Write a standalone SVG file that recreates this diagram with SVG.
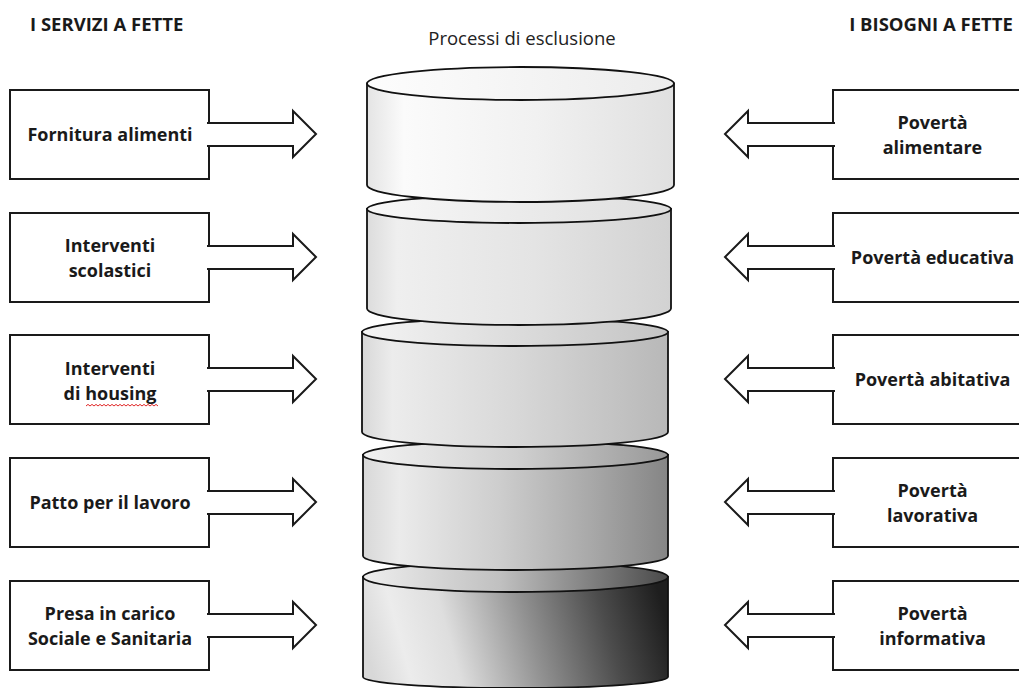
<svg xmlns="http://www.w3.org/2000/svg" width="1019" height="688" viewBox="0 0 1019 688">
<style>
.box{fill:#fff;stroke:#1a1a1a;stroke-width:2}
.arr{fill:#fff;stroke:#1a1a1a;stroke-width:2;stroke-linejoin:miter}
.lbl{font-family:"Open Sans","Liberation Sans",sans-serif;font-weight:bold;font-size:18px;fill:#1a1a1a;text-anchor:middle}
.hdr{font-family:"Open Sans","Liberation Sans",sans-serif;font-weight:bold;font-size:18.5px;fill:#1a1a1a}
.ttl{font-family:"Open Sans","Liberation Sans",sans-serif;font-size:18.5px;fill:#222;text-anchor:middle}
.cyl{stroke:#111;stroke-width:1.8}
</style>
<defs>
<linearGradient id="s1" x1="0" y1="0" x2="1" y2="0"><stop offset="0" stop-color="#e4e4e4"/><stop offset="0.12" stop-color="#fbfbfb"/><stop offset="0.55" stop-color="#f1f1f1"/><stop offset="1" stop-color="#e0e0e0"/></linearGradient>
<linearGradient id="t1" x1="0" y1="0" x2="1" y2="0"><stop offset="0" stop-color="#fdfdfd"/><stop offset="1" stop-color="#ececec"/></linearGradient>
<linearGradient id="s2" x1="0" y1="0" x2="1" y2="0"><stop offset="0" stop-color="#dcdcdc"/><stop offset="0.1" stop-color="#efefef"/><stop offset="0.55" stop-color="#e4e4e4"/><stop offset="1" stop-color="#d2d2d2"/></linearGradient>
<linearGradient id="t2" x1="0" y1="0" x2="1" y2="0"><stop offset="0" stop-color="#f8f8f8"/><stop offset="1" stop-color="#dedede"/></linearGradient>
<linearGradient id="s3" x1="0" y1="0" x2="1" y2="0"><stop offset="0" stop-color="#d8d8d8"/><stop offset="0.1" stop-color="#ececec"/><stop offset="0.5" stop-color="#d8d8d8"/><stop offset="1" stop-color="#b8b8b8"/></linearGradient>
<linearGradient id="t3" x1="0" y1="0" x2="1" y2="0"><stop offset="0" stop-color="#f4f4f4"/><stop offset="1" stop-color="#c4c4c4"/></linearGradient>
<linearGradient id="s4" x1="0" y1="0" x2="1" y2="0"><stop offset="0" stop-color="#d8d8d8"/><stop offset="0.12" stop-color="#ebebeb"/><stop offset="0.45" stop-color="#cdcdcd"/><stop offset="0.75" stop-color="#a8a8a8"/><stop offset="1" stop-color="#858585"/></linearGradient>
<linearGradient id="t4" x1="0" y1="0" x2="1" y2="0"><stop offset="0" stop-color="#f2f2f2"/><stop offset="0.5" stop-color="#d0d0d0"/><stop offset="1" stop-color="#989898"/></linearGradient>
<linearGradient id="s5" x1="0" y1="0.55" x2="1" y2="0.45"><stop offset="0" stop-color="#d8d8d8"/><stop offset="0.12" stop-color="#ececec"/><stop offset="0.28" stop-color="#dedede"/><stop offset="0.55" stop-color="#909090"/><stop offset="0.8" stop-color="#4c4c4c"/><stop offset="1" stop-color="#1e1e1e"/></linearGradient>
<linearGradient id="t5" x1="0" y1="0" x2="1" y2="0"><stop offset="0" stop-color="#eeeeee"/><stop offset="0.45" stop-color="#c0c0c0"/><stop offset="1" stop-color="#4a4a4a"/></linearGradient>
</defs>
<rect width="1019" height="688" fill="#fff"/>

<text class="hdr" x="30" y="31">I SERVIZI A FETTE</text>
<text class="hdr" x="931" y="31" text-anchor="middle">I BISOGNI A FETTE</text>
<text class="ttl" x="522" y="45">Processi di esclusione</text>

<g id="cylinder5">
<path class="cyl" fill="url(#s5)" d="M363,577 V677 A152.5,11 0 0 0 668,677 V577 Z"/>
<ellipse class="cyl" fill="url(#t5)" cx="515.5" cy="577" rx="152.5" ry="15"/>
</g>
<g id="cylinder4">
<path class="cyl" fill="url(#s4)" d="M363,455 V556 A152.5,14 0 0 0 668,556 V455 Z"/>
<ellipse class="cyl" fill="url(#t4)" cx="515.5" cy="455" rx="152.5" ry="14"/>
</g>
<g id="cylinder3">
<path class="cyl" fill="url(#s3)" d="M362,332 V432 A153,15 0 0 0 668,432 V332 Z"/>
<ellipse class="cyl" fill="url(#t3)" cx="515" cy="332" rx="153" ry="14"/>
</g>
<g id="cylinder2">
<path class="cyl" fill="url(#s2)" d="M367,209 V308.5 A152,16.5 0 0 0 671,308.5 V209 Z"/>
<ellipse class="cyl" fill="url(#t2)" cx="519" cy="209" rx="152" ry="14"/>
</g>
<g id="cylinder1">
<path class="cyl" fill="url(#s1)" d="M367,83.5 V185 A153.5,17 0 0 0 674,185 V83.5 Z"/>
<ellipse class="cyl" fill="url(#t1)" cx="520.5" cy="83.5" rx="153.5" ry="16.5"/>
</g>

<g id="svc1"><rect class="box" x="10" y="90" width="199" height="89"/><text class="lbl" x="110" y="141">Fornitura alimenti</text></g>
<g id="svc2"><rect class="box" x="10" y="213" width="199" height="89"/><text class="lbl" x="110" y="252">Interventi</text><text class="lbl" x="110" y="277">scolastici</text></g>
<g id="svc3"><rect class="box" x="10" y="335" width="199" height="89"/><text class="lbl" x="110" y="375">Interventi</text><text class="lbl" x="110" y="400">di housing</text><path d="M86,406 l2,-1.6 l2,1.6 l2,-1.6 l2,1.6 l2,-1.6 l2,1.6 l2,-1.6 l2,1.6 l2,-1.6 l2,1.6 l2,-1.6 l2,1.6 l2,-1.6 l2,1.6 l2,-1.6 l2,1.6 l2,-1.6 l2,1.6 l2,-1.6 l2,1.6 l2,-1.6 l2,1.6 l2,-1.6 l2,1.6 l2,-1.6 l2,1.6 l2,-1.6 l2,1.6 l2,-1.6 l2,1.6 l2,-1.6 l2,1.6 l2,-1.6 l2,1.6 l2,-1.6 l2,1.6" fill="none" stroke="#e02828" stroke-width="1"/></g>
<g id="svc4"><rect class="box" x="10" y="458" width="199" height="89"/><text class="lbl" x="110" y="509">Patto per il lavoro</text></g>
<g id="svc5"><rect class="box" x="10" y="581" width="199" height="89"/><text class="lbl" x="110" y="620">Presa in carico</text><text class="lbl" x="110" y="645">Sociale e Sanitaria</text></g>

<g id="need1"><rect class="box" x="833" y="90" width="199" height="89"/><text class="lbl" x="932.5" y="129">Povertà</text><text class="lbl" x="932.5" y="154">alimentare</text></g>
<g id="need2"><rect class="box" x="833" y="213" width="199" height="89"/><text class="lbl" x="932.5" y="264">Povertà educativa</text></g>
<g id="need3"><rect class="box" x="833" y="335" width="199" height="89"/><text class="lbl" x="932.5" y="386">Povertà abitativa</text></g>
<g id="need4"><rect class="box" x="833" y="458" width="199" height="89"/><text class="lbl" x="932.5" y="497">Povertà</text><text class="lbl" x="932.5" y="522">lavorativa</text></g>
<g id="need5"><rect class="box" x="833" y="581" width="199" height="89"/><text class="lbl" x="932.5" y="620">Povertà</text><text class="lbl" x="932.5" y="645">informativa</text></g>

<g id="connectors">
<path class="arr" d="M207,123 H293 V111 L316,134 L293,157 V146 H207"/>
<path class="arr" d="M207,246 H293 V234 L316,257 L293,280 V269 H207"/>
<path class="arr" d="M207,368 H293 V356 L316,379 L293,402 V391 H207"/>
<path class="arr" d="M207,491 H293 V479 L316,502 L293,525 V514 H207"/>
<path class="arr" d="M207,614 H293 V602 L316,625 L293,648 V637 H207"/>
<path class="arr" d="M835,123 H748 V111 L725,134 L748,157 V146 H835"/>
<path class="arr" d="M835,246 H748 V234 L725,257 L748,280 V269 H835"/>
<path class="arr" d="M835,368 H748 V356 L725,379 L748,402 V391 H835"/>
<path class="arr" d="M835,491 H748 V479 L725,502 L748,525 V514 H835"/>
<path class="arr" d="M835,614 H748 V602 L725,625 L748,648 V637 H835"/>
</g>
</svg>
